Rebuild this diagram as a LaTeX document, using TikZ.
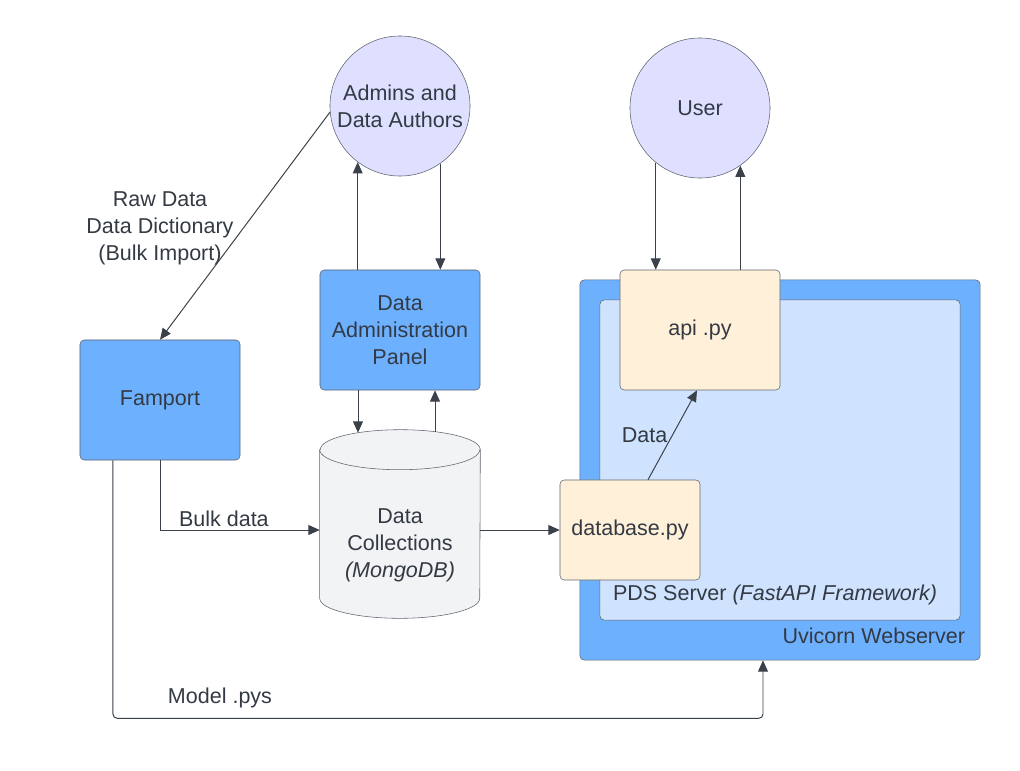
\documentclass[tikz,border=0pt]{standalone}
\usepackage{fontspec}
\setmainfont{Liberation Sans}
\usetikzlibrary{arrows.meta}
\definecolor{inkgray}{HTML}{3A414A}
\definecolor{linegray}{HTML}{5F6670}
\definecolor{textgray}{HTML}{333A44}
\definecolor{actorfill}{HTML}{DFDFFF}
\definecolor{panelfill}{HTML}{6CB0FE}
\definecolor{scriptfill}{HTML}{FFF1D9}
\definecolor{storefill}{HTML}{F2F3F5}
\definecolor{serverfill}{HTML}{CFE3FE}

\begin{document}
\begin{tikzpicture}[x=0.025cm,y=-0.025cm,
                    every node/.style={text=textgray,font=\fontsize{15.3}{19.2}\selectfont,align=center},
                    actor/.style={shape=circle,draw=linegray,fill=actorfill,minimum size=3.5cm,inner sep=0pt},
                    panel/.style={shape=rectangle,rounded corners=3pt,draw=linegray,fill=panelfill,minimum width=4cm,minimum height=3cm},
                    script/.style={shape=rectangle,rounded corners=3pt,draw=linegray,fill=scriptfill,minimum width=4cm,minimum height=3cm},
                    flow/.style={draw=inkgray,line width=0.7pt,-{Triangle[length=8pt,width=7pt]}}]
                    \useasboundingbox (0,0) rectangle (1020,770);

                    \node[actor] (admins) at (400,106) {Admins and\\Data Authors};
                    \node[actor] (user) at (700,108) {User};
                    \node[panel] (panel) at (400,330) {Data\\Administration\\Panel};
                    \node[panel] (famport) at (160,400) {Famport};
                    \node[shape=rectangle,minimum width=4cm,minimum height=4.7cm] (collections) at (400,524) {};
                    \draw[linegray,fill=storefill] ([yshift=-0.5cm]collections.north west) -- ([yshift=0.5cm]collections.south west)
                        arc[start angle=180,end angle=360,x radius=2cm,y radius=0.5cm] -- ([yshift=-0.5cm]collections.north east)
                        arc[start angle=0,end angle=180,x radius=2cm,y radius=0.5cm] -- cycle;
                    \draw[linegray] ([yshift=-0.5cm]collections.north west) arc[start angle=180,end angle=360,x radius=2cm,y radius=0.5cm];
                    \node (collectionslabel) at (400,545) {Data\\Collections\\\textit{(MongoDB)}};

                    \node[panel,minimum width=10cm,minimum height=9.5cm] (uvicorn) at (780,470) {};
                    \node[panel,fill=serverfill,minimum width=9cm,minimum height=8cm] (server) at (780,460) {};
                    \node[anchor=east] (uvicornlabel) at (970,636) {Uvicorn Webserver};
                    \node (serverlabel) at (775,595) {PDS Server \textit{(FastAPI Framework)}};
                    \node[script] (api) at (700,330) {api .py};
                    \node[script,minimum width=3.5cm,minimum height=2.5cm] (database) at (630,530) {database.py};

                    \node (rawlabel) at (160,228) {Raw Data\\Data Dictionary\\(Bulk Import)};
                    \node (modellabel) at (220,698) {Model .pys};

                    \draw[flow] (admins.185) -- (famport.north);
                    \draw[flow] (admins.233 |- panel.north) -- (admins.233);
                    \draw[flow] (admins.305) -- (admins.305 |- panel.north);
                    \draw[flow] ([xshift=-1.05cm]panel.south) -- ([xshift=-1.05cm,yshift=-0.075cm]collections.north);
                    \draw[flow] ([xshift=0.875cm,yshift=-0.05cm]collections.north) -- ([xshift=0.875cm]panel.south);
                    \draw[flow] (user.231) -- (user.231 |- api.north);
                    \draw[flow] (user.305 |- api.north) -- (user.305);
                    \draw[flow] (famport.south) |- node[pos=0.7,above=-1pt] {Bulk data} (database.west -| collections.west);
                    \draw[flow] (database.west -| collections.east) -- (database.west);
                    \draw[flow] ([xshift=0.45cm]database.north) -- node[midway,left] {Data} ([xshift=-0.075cm]api.south);
                    \draw[flow,rounded corners=3pt] ([xshift=-1.175cm]famport.south) -- ++(0,258) -| ([xshift=-0.425cm]uvicorn.south);
                \end{tikzpicture}
\end{document}
